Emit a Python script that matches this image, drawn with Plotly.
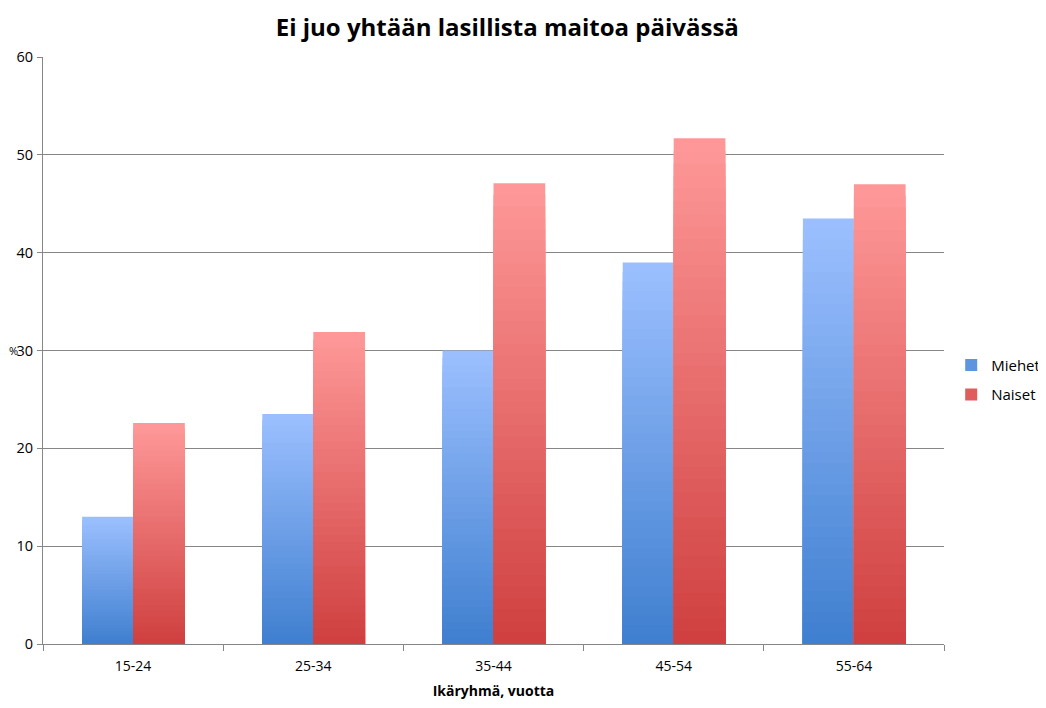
import plotly.graph_objects as go

categories = ["15-24", "25-34", "35-44", "45-54", "55-64"]
miehet = [13.0, 23.5, 30.0, 39.0, 43.5]
naiset = [22.6, 31.9, 47.1, 51.7, 47.0]

title_text = "Ei juo yhtään lasillista maitoa päivässä"
x_title = "Ikäryhmä, vuotta"
y_title = "%"

FONT = "Open Sans"
N = 40


def lerp(c1, c2, t):
    return "rgb(%d,%d,%d)" % tuple(round(a + (b - a) * t) for a, b in zip(c1, c2))


series = [
    ("Miehet", miehet, (63, 127, 207), (156, 192, 255), -0.283, 0.283),
    ("Naiset", naiset, (207, 63, 63), (255, 153, 153), 0.0, 0.287),
]

fig = go.Figure()
for name, vals, bottom, top, off, w in series:
    # draw tallest (lightest) first, then progressively shorter/darker bars on top
    for k in range(N - 1, -1, -1):
        t = (k + 0.5) / N
        is_full = (k == N - 1)
        fig.add_trace(go.Bar(
            x=categories,
            y=[v * (k + 1) / N for v in vals],
            offset=off, width=w,
            marker=dict(color=lerp(bottom, top, t), line=dict(width=0)),
            name=name, legendgroup=name,
            showlegend=(k == N // 3),
            hoverinfo=None if is_full else "skip",
            customdata=vals,
            hovertemplate=("%{x}: %{customdata}<extra>" + name + "</extra>") if is_full else None,
        ))

# page body has an 8px margin, so the figure is made 8px smaller and margins shifted
fig.update_layout(
    width=1038, height=700,
    barmode="overlay",
    paper_bgcolor="white", plot_bgcolor="white",
    margin=dict(l=35, r=102, t=49, b=64, autoexpand=False),
    font=dict(family=FONT, size=13, color="black"),
    title=dict(text="<b>" + title_text + "</b>", x=0.481, xanchor="center",
               yref="container", y=0.984, yanchor="top",
               font=dict(family=FONT, size=24, color="black")),
    showlegend=True,
    legend=dict(x=1.008, xanchor="left", y=0.45, yanchor="middle",
                font=dict(family=FONT, size=15, color="black"),
                tracegroupgap=7, itemwidth=30),
    xaxis=dict(
        type="category", range=[-0.5, 4.5], automargin=False,
        showline=True, linecolor="#868686", linewidth=1,
        ticks="outside", tickson="boundaries", ticklen=6, tickcolor="#868686",
        ticklabelstandoff=9,
        showgrid=False,
        title=dict(text="<b>" + x_title + "</b>", standoff=12,
                   font=dict(family=FONT, size=14, color="black")),
        tickfont=dict(family=FONT, size=14, color="black"),
    ),
    yaxis=dict(
        range=[0, 60], dtick=10, automargin=False,
        showline=True, linecolor="#868686", linewidth=1,
        ticks="outside", ticklen=5, tickcolor="#868686",
        ticklabelstandoff=1,
        showgrid=True, gridcolor="#868686", gridwidth=1,
        zeroline=False,
        tickfont=dict(family=FONT, size=14.5, color="black"),
    ),
    annotations=[dict(text=y_title, xref="paper", yref="paper",
                      x=-35 / 901, y=(644 - 351) / 587, xanchor="left", yanchor="middle",
                      showarrow=False, borderpad=0,
                      font=dict(family=FONT, size=11, color="black"))],
)

fig.write_html("out.html")
